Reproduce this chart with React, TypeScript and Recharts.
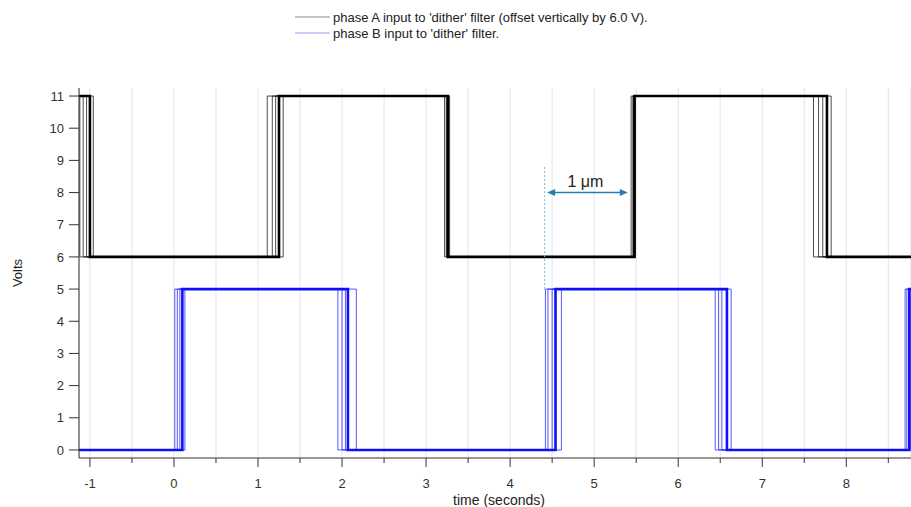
import React from 'react';
import { LineChart, Line, XAxis, YAxis, CartesianGrid, ReferenceLine, Legend } from 'recharts';

// time window shown (seconds)
const timeDomain = [-1.13, 8.77];

// phase A: low/high levels (offset vertically by 6 V), starts high
const phaseALevels = [6, 11];
const phaseAStartsHigh = true;
// each row = one transition; entries = that transition's time in each overlaid sweep
const phaseAEdges = [
  [-1.12, -1.08, -1.04, -1.0, -0.96],
  [1.11, 1.17, 1.21, 1.25, 1.3],
  [3.22, 3.24, 3.25, 3.26, 3.28],
  [5.44, 5.46, 5.47, 5.48, 5.49],
  [7.61, 7.67, 7.72, 7.77, 7.82],
];

// phase B: low/high levels, starts low
const phaseBLevels = [0, 5];
const phaseBStartsHigh = false;
const phaseBEdges = [
  [0.01, 0.04, 0.07, 0.1, 0.13],
  [1.95, 2.0, 2.04, 2.07, 2.17],
  [4.42, 4.45, 4.5, 4.54, 4.61],
  [6.44, 6.48, 6.52, 6.58, 6.63],
  [8.7, 8.72, 8.74, 8.75, 8.76],
];

const sweepWidths = [1, 1, 1, 2.6, 1];
const sweepOpacity = [0.7, 0.7, 0.7, 1, 0.7];

const xTicks = [-1, -0.5, 0, 0.5, 1, 1.5, 2, 2.5, 3, 3.5, 4, 4.5, 5, 5.5, 6, 6.5, 7, 7.5, 8, 8.5];
const yTicks = [0, 1, 2, 3, 4, 5, 6, 7, 8, 9, 10, 11];

// annotation: marker line and "1 µm" span
const markerTime = 4.41;
const markerRange = [5.0, 8.8];
const spanStart = 4.44;
const spanEnd = 5.4;
const spanLevel = 8.0;
const spanLabel = '1 \u03bcm';

const legendLabels = [
  "phase A input to 'dither' filter (offset vertically by 6.0 V).",
  "phase B input to 'dither' filter.",
];

const FONT = '"Liberation Sans", Arial, Helvetica, sans-serif';

function buildSweep(edges: number[][], levels: number[], startsHigh: boolean, k: number) {
  let high = startsHigh;
  const pts: { t: number; v: number }[] = [{ t: timeDomain[0], v: high ? levels[1] : levels[0] }];
  for (const row of edges) {
    const e = row[k];
    pts.push({ t: e, v: high ? levels[1] : levels[0] });
    high = !high;
    pts.push({ t: e, v: high ? levels[1] : levels[0] });
  }
  pts.push({ t: timeDomain[1], v: high ? levels[1] : levels[0] });
  return pts;
}

const sweepsA = sweepWidths.map((_, k) => buildSweep(phaseAEdges, phaseALevels, phaseAStartsHigh, k));
const sweepsB = sweepWidths.map((_, k) => buildSweep(phaseBEdges, phaseBLevels, phaseBStartsHigh, k));

const XTick = (props: any) => {
  const { x, y, payload } = props;
  const major = Number.isInteger(payload.value);
  return (
    <g>
      <line x1={x} x2={x} y1={y} y2={y + (major ? 9 : 5)} stroke="#333" strokeWidth={1} />
      {major && (
        <text x={x} y={y + 30} textAnchor="middle" fontSize={13} fill="#333" fontFamily={FONT}>
          {payload.value}
        </text>
      )}
    </g>
  );
};

const ArrowShape = (props: any) => {
  const { x1, y1, x2 } = props;
  const c = '#2b7bb3';
  const h = 8;
  const w = 3.5;
  return (
    <g>
      <line x1={x1 + h - 1} y1={y1} x2={x2 - h + 1} y2={y1} stroke={c} strokeWidth={1.5} />
      <polygon points={`${x1},${y1} ${x1 + h},${y1 - w} ${x1 + h},${y1 + w}`} fill={c} />
      <polygon points={`${x2},${y1} ${x2 - h},${y1 - w} ${x2 - h},${y1 + w}`} fill={c} />
      <text x={(x1 + x2) / 2 - 2} y={y1 - 6} textAnchor="middle" fontSize={16} fill="#222" fontFamily={FONT}>
        {spanLabel}
      </text>
    </g>
  );
};

const LegendContent = () => (
  <svg width={911} height={45} style={{ display: 'block' }}>
    <line x1={295} x2={330} y1={17} y2={17} stroke="#8c8c8c" strokeWidth={1} />
    <text x={333} y={21.5} fontSize={13} fill="#222" fontFamily={FONT}>{legendLabels[0]}</text>
    <line x1={295} x2={330} y1={33} y2={33} stroke="#9c9cf0" strokeWidth={1} />
    <text x={333} y={37.5} fontSize={13} fill="#222" fontFamily={FONT}>{legendLabels[1]}</text>
  </svg>
);

export default function App() {
  return (
    <div style={{ position: 'absolute', left: 0, top: 0, width: 911, height: 507, background: '#fff' }}>
      <LineChart width={911} height={507} margin={{ top: 88, right: 0, bottom: 0, left: 0 }}>
        <CartesianGrid horizontal={false} stroke="#e2e3ef" strokeWidth={1} />
        <XAxis
          dataKey="t"
          type="number"
          domain={timeDomain}
          allowDataOverflow
          ticks={xTicks}
          interval={0}
          tick={<XTick />}
          tickLine={false}
          tickSize={0}
          tickMargin={0}
          height={49}
          stroke="#333"
          label={(p: any) => {
            const vb = p.viewBox;
            return (
              <text x={vb.x + vb.width / 2 + 4} y={vb.y + 47} textAnchor="middle" fontSize={14} fill="#222" fontFamily={FONT}>
                time (seconds)
              </text>
            );
          }}
        />
        <YAxis
          type="number"
          domain={[-0.25, 11.25]}
          allowDataOverflow
          ticks={yTicks}
          interval={0}
          width={79}
          tickSize={10}
          tickMargin={5}
          stroke="#333"
          tick={{ fontSize: 13, fill: '#333', fontFamily: FONT }}
          label={(p: any) => {
            const vb = p.viewBox;
            const cx = vb.x + 22;
            const cy = vb.y + vb.height / 2;
            return (
              <text x={cx} y={cy} transform={`rotate(-90 ${cx} ${cy})`} textAnchor="middle" fontSize={13} fill="#222" fontFamily={FONT}>
                Volts
              </text>
            );
          }}
        />
        {sweepsA.map((d, k) => (
          <Line
            key={'a' + k}
            data={d}
            dataKey="v"
            type="linear"
            stroke="#000"
            strokeWidth={sweepWidths[k]}
            strokeOpacity={sweepOpacity[k]}
            dot={false}
            activeDot={false}
            isAnimationActive={false}
          />
        ))}
        {sweepsB.map((d, k) => (
          <Line
            key={'b' + k}
            data={d}
            dataKey="v"
            type="linear"
            stroke="#1010f5"
            strokeWidth={sweepWidths[k]}
            strokeOpacity={sweepOpacity[k]}
            dot={false}
            activeDot={false}
            isAnimationActive={false}
          />
        ))}
        <ReferenceLine
          segment={[{ x: markerTime, y: markerRange[0] }, { x: markerTime, y: markerRange[1] }]}
          stroke="#7cb9d6"
          strokeDasharray="2 2"
          strokeWidth={1}
        />
        <ReferenceLine
          segment={[{ x: spanStart, y: spanLevel }, { x: spanEnd, y: spanLevel }]}
          shape={<ArrowShape />}
        />
        <Legend
          layout="horizontal"
          verticalAlign="middle"
          align="center"
          wrapperStyle={{ top: 0, left: 0, width: 911, height: 45 }}
          content={<LegendContent />}
        />
      </LineChart>
    </div>
  );
}
